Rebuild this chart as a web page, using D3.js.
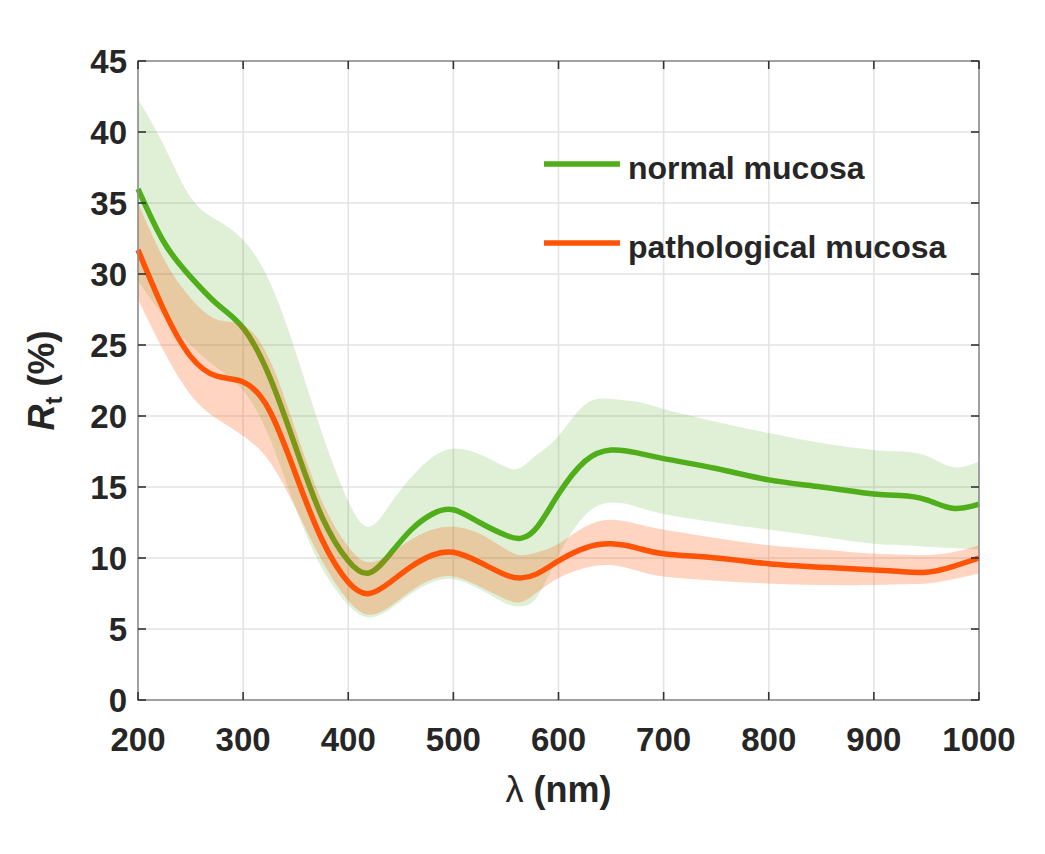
<!DOCTYPE html>
<html>
<head>
<meta charset="utf-8">
<script src="https://cdn.jsdelivr.net/npm/d3@7/dist/d3.min.js"></script>
<style>
  html, body { margin: 0; padding: 0; background: #fff; }
  svg { display: block; }
  text { font-family: "Liberation Sans", Arial, Helvetica, sans-serif; fill: #262626; }
</style>
</head>
<body>
<svg id="chart" width="1045" height="854"></svg>
<script>
// ---- data ----
const wavelengths = [200,225,250,275,300,325,350,375,400,420,440,460,480,500,525,550,565,580,600,625,650,675,700,750,800,850,900,925,950,975,1000];

const normalMean  = [36.0,32.2,29.8,27.9,26.2,22.8,17.8,12.9,9.8,8.95,10.3,12.0,13.1,13.4,12.5,11.6,11.4,12.2,14.5,16.8,17.6,17.4,17.0,16.3,15.5,15.0,14.5,14.4,14.1,13.5,13.8];
const normalUpper = [42.3,39.0,35.4,33.8,32.4,29.5,24.5,18.8,14.0,12.2,13.8,15.7,17.1,17.7,17.3,16.4,16.4,17.3,18.6,20.8,21.2,21.0,20.5,19.6,18.8,18.1,17.6,17.5,17.2,16.4,16.8];
const normalLower = [29.5,27.0,25.0,23.4,21.8,18.5,13.5,9.3,6.7,5.8,6.4,7.5,8.3,8.5,7.8,6.8,6.6,7.3,10.2,13.0,13.9,13.6,13.1,12.5,12.0,11.5,11.0,10.9,10.8,10.7,10.6];

const pathMean  = [31.7,27.4,24.2,22.8,22.4,20.4,15.9,11.3,8.3,7.5,8.3,9.4,10.2,10.4,9.7,8.8,8.6,8.9,9.8,10.7,11.0,10.7,10.3,10.0,9.6,9.35,9.15,9.05,9.0,9.4,10.0];
const pathUpper = [35.0,31.0,28.3,26.8,26.4,24.0,19.0,14.0,10.8,9.7,10.3,11.3,12.0,12.2,11.7,10.6,10.2,10.4,11.0,12.2,12.7,12.4,12.0,11.4,10.9,10.6,10.3,10.25,10.2,10.4,10.9];
const pathLower = [28.2,24.5,21.5,19.8,18.6,16.8,13.5,9.8,7.0,6.0,6.6,7.7,8.5,8.7,8.0,7.1,6.9,7.6,8.6,9.3,9.5,9.1,8.7,8.4,8.2,8.1,8.1,8.15,8.2,8.5,8.9];

const xTicks = [200,300,400,500,600,700,800,900,1000];
const yTicks = [0,5,10,15,20,25,30,35,40,45];
const seriesNames = ["normal mucosa", "pathological mucosa"];

// ---- layout ----
const svg = d3.select("#chart");
const L = 138, R = 979, T = 61, B = 700;
const x = d3.scaleLinear().domain([200, 1000]).range([L, R]);
const y = d3.scaleLinear().domain([0, 45]).range([B, T]);

const green = "#4fae1a";
const orange = "#ff5306";

svg.append("rect").attr("width", 1045).attr("height", 854).attr("fill", "#fff");

// grid
const grid = svg.append("g");
grid.selectAll(".gx").data(xTicks).join("line")
  .attr("x1", d => x(d)).attr("x2", d => x(d)).attr("y1", T).attr("y2", B)
  .attr("stroke", "#e3e3e3").attr("stroke-width", 1.6);
grid.selectAll(".gy").data(yTicks).join("line")
  .attr("x1", L).attr("x2", R).attr("y1", d => y(d)).attr("y2", d => y(d))
  .attr("stroke", "#e3e3e3").attr("stroke-width", 1.6);

const rows = wavelengths.map((w, i) => ({
  w, nm: normalMean[i], nu: normalUpper[i], nl: normalLower[i],
  pm: pathMean[i], pu: pathUpper[i], pl: pathLower[i]
}));

const curve = d3.curveNatural;
const plot = svg.append("g");

plot.append("path").datum(rows)
  .attr("d", d3.area().curve(curve).x(d => x(d.w)).y0(d => y(d.nl)).y1(d => y(d.nu)))
  .attr("fill", green).attr("fill-opacity", 0.18);
plot.append("path").datum(rows)
  .attr("d", d3.line().curve(curve).x(d => x(d.w)).y(d => y(d.nm)))
  .attr("fill", "none").attr("stroke", green).attr("stroke-width", 5.5);
plot.append("path").datum(rows)
  .attr("d", d3.area().curve(curve).x(d => x(d.w)).y0(d => y(d.pl)).y1(d => y(d.pu)))
  .attr("fill", orange).attr("fill-opacity", 0.25);
plot.append("path").datum(rows)
  .attr("d", d3.line().curve(curve).x(d => x(d.w)).y(d => y(d.pm)))
  .attr("fill", "none").attr("stroke", orange).attr("stroke-width", 5.5);

// axes box
svg.append("rect").attr("x", L).attr("y", T).attr("width", R - L).attr("height", B - T)
  .attr("fill", "none").attr("stroke", "#8f8f8f").attr("stroke-width", 1.6);

// ticks (inward, all sides)
const tk = 8;
const ticks = svg.append("g").attr("stroke", "#333").attr("stroke-width", 1.6);
ticks.selectAll(".tb").data(xTicks).join("line")
  .attr("x1", d => x(d)).attr("x2", d => x(d)).attr("y1", B).attr("y2", B - tk);
ticks.selectAll(".tt").data(xTicks).join("line")
  .attr("x1", d => x(d)).attr("x2", d => x(d)).attr("y1", T).attr("y2", T + tk);
ticks.selectAll(".tl").data(yTicks).join("line")
  .attr("x1", L).attr("x2", L + tk).attr("y1", d => y(d)).attr("y2", d => y(d));
ticks.selectAll(".tr").data(yTicks).join("line")
  .attr("x1", R).attr("x2", R - tk).attr("y1", d => y(d)).attr("y2", d => y(d));

// tick labels
svg.append("g").selectAll("text").data(xTicks).join("text")
  .attr("x", d => x(d)).attr("y", 751)
  .attr("text-anchor", "middle").attr("font-size", 33).attr("font-weight", "bold")
  .text(d => d);
svg.append("g").selectAll("text").data(yTicks).join("text")
  .attr("x", 127).attr("y", d => y(d) + 12)
  .attr("text-anchor", "end").attr("font-size", 33).attr("font-weight", "bold")
  .text(d => d);

// x title
const xt = svg.append("text").attr("x", (L + R) / 2).attr("y", 802)
  .attr("text-anchor", "middle").attr("font-size", 36);
xt.append("tspan").attr("font-weight", "normal").text("λ");
xt.append("tspan").attr("font-weight", "bold").text(" (nm)");

// y title
const yt = svg.append("text").attr("transform", `translate(54,${(T + B) / 2}) rotate(-90)`)
  .attr("text-anchor", "middle").attr("font-size", 36).attr("font-weight", "bold");
yt.append("tspan").attr("font-style", "italic").text("R");
yt.append("tspan").attr("font-size", 24).attr("dy", 8).text("t");
yt.append("tspan").attr("dy", -8).text(" (%)");

// legend
const legend = svg.append("g");
const legColors = [green, orange];
const legY = [164, 243];
seriesNames.forEach((name, i) => {
  legend.append("line").attr("x1", 544).attr("x2", 620)
    .attr("y1", legY[i]).attr("y2", legY[i])
    .attr("stroke", legColors[i]).attr("stroke-width", 5.5);
  legend.append("text").attr("x", 628).attr("y", legY[i] + 15)
    .attr("font-size", 32).attr("font-weight", "bold").text(name);
});
</script>
</body>
</html>
